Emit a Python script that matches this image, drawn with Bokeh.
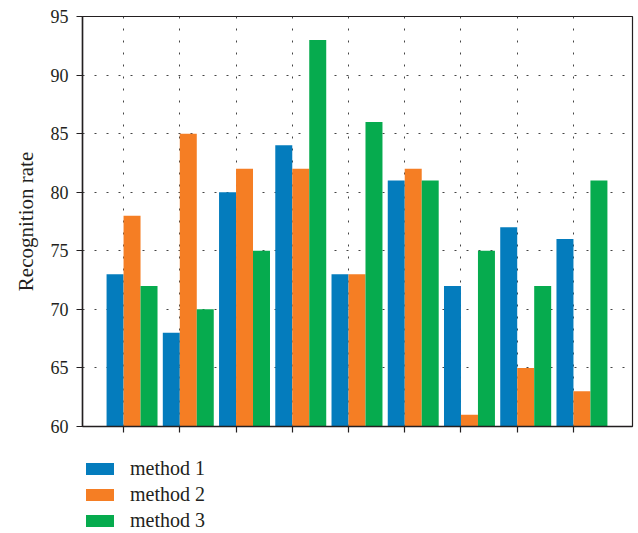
from bokeh.plotting import figure
from bokeh.layouts import column
from bokeh.models import Legend, LegendItem, Range1d, ColumnDataSource
from bokeh.transform import dodge
from bokeh.embed import file_html
from bokeh.resources import INLINE

groups = [1, 2, 3, 4, 5, 6, 7, 8, 9]
method1 = [73, 68, 80, 84, 73, 81, 72, 77, 76]
method2 = [78, 85, 82, 82, 73, 82, 61, 65, 63]
method3 = [72, 70, 75, 93, 86, 81, 75, 72, 81]
names = ["method 1", "method 2", "method 3"]
y_ticks = [60, 65, 70, 75, 80, 85, 90, 95]

colors = ["#047CBD", "#F57E24", "#06AB4E"]
FONT = "Liberation Serif"
W = 0.302
offsets = [-0.5 * W, 0.5 * W, 1.5 * W]
cols = ["m1", "m2", "m3"]

src = ColumnDataSource(dict(g=groups, m1=method1, m2=method2, m3=method3))

p = figure(frame_width=550, frame_height=410, x_range=Range1d(0.27, 10.05), y_range=Range1d(60, 95),
           output_backend="svg", toolbar_location=None,
           min_border_left=82, min_border_top=16, min_border_right=6, min_border_bottom=14)
p.background_fill_color = "white"

for col, off, c in zip(cols, offsets, colors):
    p.vbar(x=dodge("g", off, range=p.x_range), top=col, bottom=60, width=W,
           source=src, fill_color=c, line_color=None)

# axes
p.yaxis.ticker = y_ticks
p.yaxis.major_label_text_font = FONT
p.yaxis.major_label_text_font_size = "18px"
p.yaxis.major_label_text_color = "#231F20"
p.yaxis.major_tick_out = 6
p.yaxis.major_tick_in = 0
p.yaxis.minor_tick_out = 0
p.yaxis.minor_tick_in = 0
p.yaxis.major_label_standoff = 8
p.yaxis.axis_label = "Recognition rate"
p.yaxis.axis_label_text_font = FONT
p.yaxis.axis_label_text_font_size = "21px"
p.yaxis.axis_label_text_font_style = "normal"
p.yaxis.axis_label_text_color = "#231F20"
p.yaxis.axis_label_standoff = 10

p.xaxis.ticker = groups
p.xaxis.major_label_overrides = {g: "" for g in groups}
p.xaxis.major_label_text_font_size = "1px"
p.xaxis.major_label_standoff = 0
p.xaxis.major_tick_out = 6
p.xaxis.major_tick_in = 0
p.xaxis.minor_tick_out = 0
p.xaxis.minor_tick_in = 0

for ax in (p.xaxis, p.yaxis):
    ax.axis_line_color = "#231F20"
    ax.axis_line_width = 1.5
    ax.major_tick_line_color = "#231F20"
    ax.major_tick_line_width = 1.2

p.xgrid.ticker = groups
p.ygrid.ticker = y_ticks
for gr in (p.xgrid, p.ygrid):
    gr.grid_line_color = "#444444"
    gr.grid_line_dash = "2 10"
    gr.grid_line_width = 1

p.outline_line_color = "#231F20"
p.outline_line_width = 1.2
p.outline_line_alpha = 1

# legend strip below the chart
pl = figure(width=638, height=93, x_range=Range1d(0, 1), y_range=Range1d(0, 1),
            output_backend="svg", toolbar_location=None,
            x_axis_type=None, y_axis_type=None,
            min_border_left=82, min_border_top=17, min_border_right=0, min_border_bottom=0)
pl.grid.visible = False
pl.outline_line_color = None
lrs = []
for col, c in zip(cols, colors):
    r = pl.vbar(x="g", top=col, width=W, source=src, fill_color=c, line_color=None, visible=False)
    lrs.append(r)

legend = Legend(items=[LegendItem(label=n, renderers=[r]) for n, r in zip(names, lrs)],
                location="top_left", orientation="vertical",
                glyph_width=35, glyph_height=15, label_height=15,
                label_text_font=FONT, label_text_font_size="20px", label_text_color="#231F20",
                label_standoff=13, spacing=3, padding=0, margin=0,
                inactive_fill_alpha=0,
                border_line_color=None, background_fill_alpha=0)
pl.add_layout(legend, "center")

layout = column(p, pl, spacing=0)
open("out.html", "w").write(file_html(layout, INLINE))
